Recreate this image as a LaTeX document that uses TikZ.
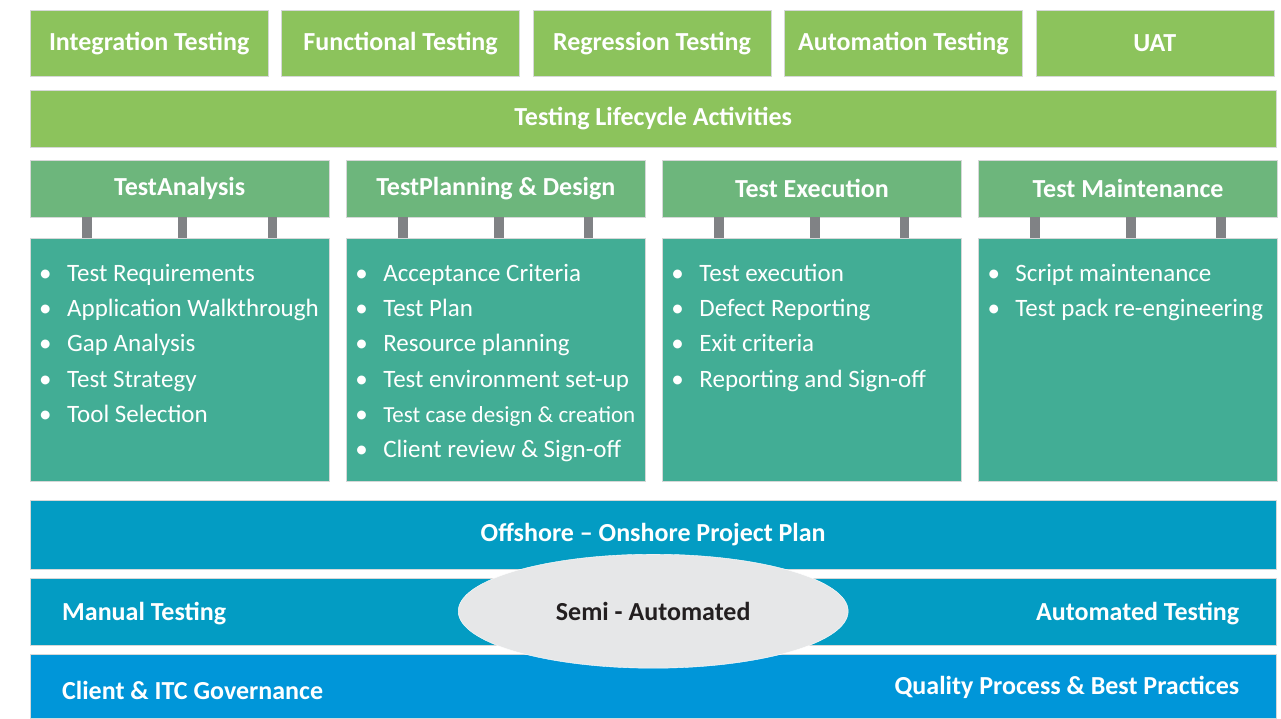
\documentclass[tikz,border=0pt]{standalone}
\usepackage{fontspec}
\setmainfont{Carlito}
\usetikzlibrary{shapes.geometric, positioning, calc}

\definecolor{topgreen}{HTML}{8CC35C}
\definecolor{headgreen}{HTML}{6DB67C}
\definecolor{bodyteal}{HTML}{42AD95}
\definecolor{linkgray}{HTML}{808285}
\definecolor{planblue}{HTML}{039CC3}
\definecolor{govblue}{HTML}{0096D9}
\definecolor{semigray}{HTML}{E6E7E8}
\definecolor{edgegray}{HTML}{D6D8D8}
\definecolor{semitext}{HTML}{231F20}

\newcommand{\blt}{\makebox[28pt][l]{\textbullet}}

\tikzset{
  testbox/.style   = {rectangle, draw=edgegray, fill=topgreen, text=white,
                      minimum width=238pt, minimum height=66pt, inner sep=0pt,
                      font=\fontsize{26}{30}\selectfont\bfseries},
  lifebar/.style   = {rectangle, draw=edgegray, fill=topgreen, text=white,
                      minimum width=1246pt, minimum height=57pt, inner sep=0pt,
                      font=\fontsize{26}{30}\selectfont\bfseries},
  phasehead/.style = {rectangle, draw=edgegray, fill=headgreen, text=white,
                      minimum width=299pt, minimum height=57pt, inner sep=0pt,
                      font=\fontsize{26}{30}\selectfont\bfseries},
  phasebody/.style = {rectangle, draw=edgegray, fill=bodyteal,
                      minimum width=299pt, minimum height=243pt},
  steplist/.style  = {text=white, align=left, inner sep=0pt,
                      font=\fontsize{25}{35.3}\selectfont},
  link/.style      = {draw=linkgray, line width=9.5pt},
  bluebar/.style   = {rectangle, draw=edgegray, fill=planblue, text=white,
                      minimum width=1246pt, inner sep=0pt,
                      font=\fontsize{26}{30}\selectfont\bfseries},
  bartext/.style   = {text=white, inner sep=0pt,
                      font=\fontsize{26}{30}\selectfont\bfseries},
  semi/.style      = {ellipse, draw=white, fill=semigray, text=semitext,
                      minimum width=390pt, minimum height=114pt, inner sep=0pt,
                      font=\fontsize{26}{30}\selectfont\bfseries},
}

\begin{document}
\begin{tikzpicture}[x=1pt, y=-1pt, node distance=13pt]
    \useasboundingbox (0,0) rectangle (1281,718);

    % ── Top row: kinds of testing ─────────────────────────────────
    \node[testbox, anchor=north west] (integ) at (30,10) {Integration Testing};
    \node[testbox, right=of integ] (func)  {Functional Testing};
    \node[testbox, right=of func]  (regr)  {Regression Testing};
    \node[testbox, right=of regr]  (auto)  {Automation Testing};
    \node[testbox, right=of auto]  (uat)   {UAT};

    \node[lifebar, below right=13.5pt and 0pt of integ.south west] (life)
      {Testing Lifecycle Activities};

    % ── Phase headers ─────────────────────────────────────────────
    \node[phasehead, below right=12.5pt and 0pt of life.south west] (hta)
      {TestAnalysis};
    \node[phasehead, right=16.7pt of hta] (htp) {TestPlanning \& Design};
    \node[phasehead, right=16.7pt of htp] (hte) {Test Execution};
    \node[phasehead, right=16.7pt of hte] (htm) {Test Maintenance};

    % ── Phase bodies ──────────────────────────────────────────────
    \node[phasebody, below=21pt of hta] (bta) {};
    \node[phasebody, below=21pt of htp] (btp) {};
    \node[phasebody, below=21pt of hte] (bte) {};
    \node[phasebody, below=21pt of htm] (btm) {};

    \node[steplist, below right=18pt and 9pt of bta.north west] (lta)
      {\strut\blt Test Requirements\\ \blt Application Walkthrough\\
       \blt Gap Analysis\\ \blt Test Strategy\\ \blt Tool Selection};
    \node[steplist, below right=18pt and 9pt of btp.north west] (ltp)
      {\strut\blt Acceptance Criteria\\ \blt Test Plan\\
       \blt Resource planning\\ \blt Test environment set-up\\
       \blt {\fontsize{23}{35.3}\selectfont Test case design \& creation}\\
       \blt Client review \& Sign-off};
    \node[steplist, below right=18pt and 9pt of bte.north west] (lte)
      {\strut\blt Test execution\\ \blt Defect Reporting\\
       \blt Exit criteria\\ \blt Reporting and Sign-off};
    \node[steplist, below right=18pt and 9pt of btm.north west] (ltm)
      {\strut\blt Script maintenance\\ \blt Test pack re-engineering};

    % ── Links between headers and bodies ──────────────────────────
    \draw[link] ($(hta.south west)!.19!(hta.south east)$) -- ($(bta.north west)!.19!(bta.north east)$);
    \draw[link] ($(hta.south west)!.51!(hta.south east)$) -- ($(bta.north west)!.51!(bta.north east)$);
    \draw[link] ($(hta.south west)!.81!(hta.south east)$) -- ($(bta.north west)!.81!(bta.north east)$);
    \draw[link] ($(htp.south west)!.19!(htp.south east)$) -- ($(btp.north west)!.19!(btp.north east)$);
    \draw[link] ($(htp.south west)!.51!(htp.south east)$) -- ($(btp.north west)!.51!(btp.north east)$);
    \draw[link] ($(htp.south west)!.81!(htp.south east)$) -- ($(btp.north west)!.81!(btp.north east)$);
    \draw[link] ($(hte.south west)!.19!(hte.south east)$) -- ($(bte.north west)!.19!(bte.north east)$);
    \draw[link] ($(hte.south west)!.51!(hte.south east)$) -- ($(bte.north west)!.51!(bte.north east)$);
    \draw[link] ($(hte.south west)!.81!(hte.south east)$) -- ($(bte.north west)!.81!(bte.north east)$);
    \draw[link] ($(htm.south west)!.19!(htm.south east)$) -- ($(btm.north west)!.19!(btm.north east)$);
    \draw[link] ($(htm.south west)!.51!(htm.south east)$) -- ($(btm.north west)!.51!(btm.north east)$);
    \draw[link] ($(htm.south west)!.81!(htm.south east)$) -- ($(btm.north west)!.81!(btm.north east)$);

    % ── Bottom bars ───────────────────────────────────────────────
    \node[bluebar, minimum height=69pt,
          below right=18pt and 0pt of bta.south west] (plan)
      {Offshore -- Onshore Project Plan};
    \node[bluebar, minimum height=67pt,
          below right=8.5pt and 0pt of plan.south west] (mode) {};
    \node[bluebar, minimum height=64pt, fill=govblue,
          below right=9.5pt and 0pt of mode.south west] (gov) {};

    \node[bartext, anchor=west] (manual) at ([xshift=32pt,yshift=-2pt]mode.west)
      {Manual Testing};
    \node[bartext, anchor=east] (automated) at ([xshift=-37pt,yshift=-2pt]mode.east)
      {Automated Testing};
    \node[bartext, anchor=west] (client) at ([xshift=32pt,yshift=-4pt]gov.west)
      {Client \& ITC Governance};
    \node[bartext, anchor=east] (quality) at ([xshift=-37pt,yshift=-1pt]gov.east)
      {Quality Process \& Best Practices};

    \node[semi] (semiauto) at (mode) {Semi - Automated};

  \end{tikzpicture}
\end{document}
